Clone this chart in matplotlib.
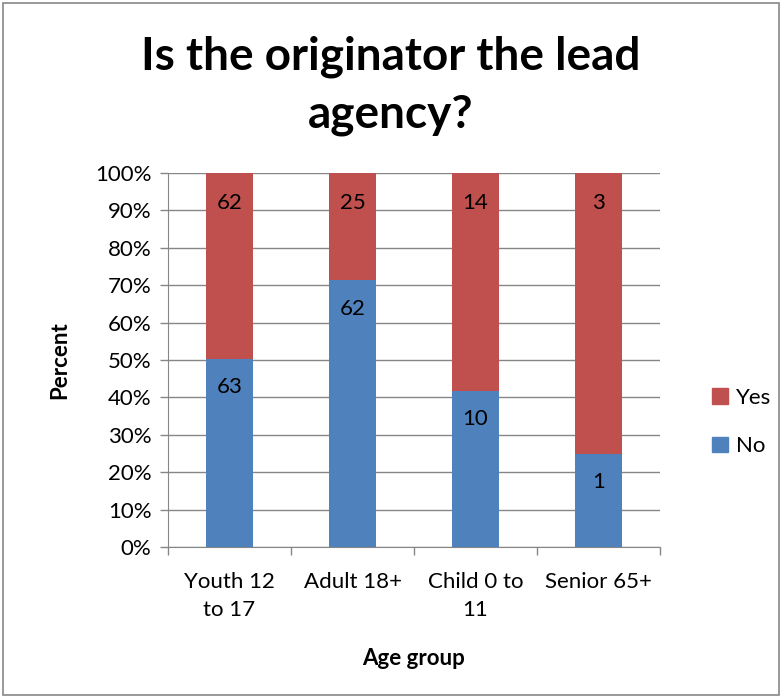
import matplotlib
matplotlib.use("Agg")
import matplotlib.pyplot as plt
from matplotlib.patches import Rectangle, Patch
import numpy as np

categories = ["Youth 12\nto 17", "Adult 18+", "Child 0 to\n11", "Senior 65+"]
no_counts = [63, 62, 10, 1]
yes_counts = [62, 25, 14, 3]
yticks = [0, 10, 20, 30, 40, 50, 60, 70, 80, 90, 100]

RED = "#C0504D"
BLUE = "#4F81BD"
FONT = ["Lato", "DejaVu Sans"]
plt.rcParams["font.family"] = FONT
FS = 16

W, H = 782, 698
fig = plt.figure(figsize=(W / 100, H / 100), dpi=100)
ax = fig.add_axes([168 / W, 1 - 547 / H, (660 - 168) / W, (547 - 173) / H])

no = np.array(no_counts, float)
yes = np.array(yes_counts, float)
tot = no + yes
no_pct = no / tot * 100
yes_pct = yes / tot * 100
x = np.arange(len(categories))
bw = 0.39

ax.bar(x, no_pct, bw, color=BLUE, zorder=3, label="No")
ax.bar(x, yes_pct, bw, bottom=no_pct, color=RED, zorder=3, label="Yes")

for i in range(len(x)):
    ax.text(x[i], no_pct[i] - 7.5, str(no_counts[i]), ha="center", va="center",
            fontsize=FS, zorder=4)
    ax.text(x[i], 100 - 8, str(yes_counts[i]), ha="center", va="center",
            fontsize=FS, zorder=4)

ax.set_xlim(-0.5, len(x) - 0.5)
ax.set_ylim(0, 100)
ax.set_yticks(yticks)
ax.set_yticklabels([f"{v}%" for v in yticks], fontsize=FS)
ax.yaxis.grid(True, color="#868686", linewidth=1, zorder=0)
ax.set_axisbelow(True)

ax.set_xticks(x)
ax.set_xticklabels(categories, fontsize=FS, linespacing=1.5)
ax.tick_params(axis="x", length=0, pad=18)
ax.set_xticks(np.arange(len(x) + 1) - 0.5, minor=True)
ax.tick_params(axis="x", which="minor", length=6, color="#868686", width=1)
ax.tick_params(axis="y", length=6, color="#868686", width=1, direction="out", pad=6)

for s in ["top", "right"]:
    ax.spines[s].set_visible(False)
for s in ["left", "bottom"]:
    ax.spines[s].set_color("#868686")

ax.set_xlabel("Age group", fontsize=FS, fontweight="bold", labelpad=20)
ax.set_ylabel("Percent", fontsize=FS, fontweight="bold", labelpad=18)

fig.text(0.5, 1 - 86 / H, "Is the originator the lead\nagency?", ha="center", va="center",
         fontsize=33, fontweight="bold", linespacing=1.45)

handles = [Patch(color=RED, label="Yes"), Patch(color=BLUE, label="No")]
fig.legend(handles=handles, loc="center left", bbox_to_anchor=(692 / W, 1 - 422 / H),
           frameon=False, fontsize=FS, handlelength=0.7, handleheight=0.7,
           labelspacing=1.3, handletextpad=0.4)

fig.patches.append(Rectangle((3 / W, 3 / H), (W - 6) / W, (H - 6) / H, transform=fig.transFigure,
                             fill=False, edgecolor="#888888", linewidth=1.2))

fig.savefig("out.png", dpi=100)
